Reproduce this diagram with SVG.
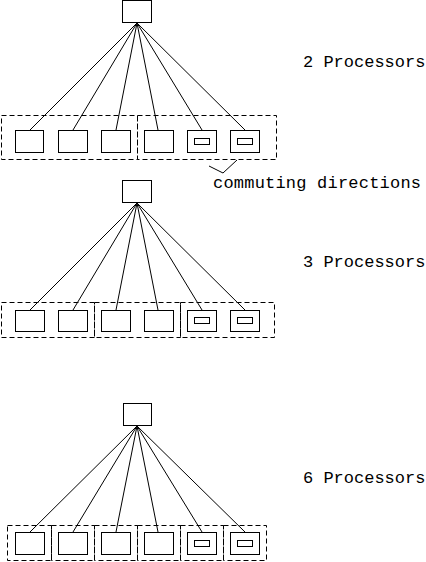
<svg xmlns="http://www.w3.org/2000/svg" width="426" height="562" viewBox="0 0 426 562">
<style>
rect{fill:none;stroke:#000;stroke-width:1}
.g{stroke-dasharray:5,3}
line,polyline{stroke:#000;stroke-width:1;fill:none}
text{font-family:"Liberation Mono","DejaVu Sans Mono",monospace;font-size:17px;fill:#000}
</style>
<rect width="426" height="562" fill="#fff" stroke="none" style="fill:#fff;stroke:none"/>
<g id="connectors">
<line x1="137" y1="23" x2="30" y2="130"/>
<line x1="137" y1="23" x2="73" y2="130"/>
<line x1="137" y1="23" x2="116" y2="130"/>
<line x1="137" y1="23" x2="158" y2="130"/>
<line x1="137" y1="23" x2="202" y2="130"/>
<line x1="137" y1="23" x2="245" y2="130"/>
<line x1="137" y1="203" x2="30" y2="310"/>
<line x1="137" y1="203" x2="73" y2="310"/>
<line x1="137" y1="203" x2="116" y2="310"/>
<line x1="137" y1="203" x2="158" y2="310"/>
<line x1="137" y1="203" x2="202" y2="310"/>
<line x1="137" y1="203" x2="245" y2="310"/>
<line x1="137" y1="426" x2="30" y2="532"/>
<line x1="137" y1="426" x2="73" y2="532"/>
<line x1="137" y1="426" x2="116" y2="532"/>
<line x1="137" y1="426" x2="158" y2="532"/>
<line x1="137" y1="426" x2="202" y2="532"/>
<line x1="137" y1="426" x2="245" y2="532"/>
<polyline points="209,166 223,173 237,160"/>
</g>
<g id="section1">
<rect id="root1" x="122.5" y="0.5" width="29" height="22"/>
<rect class="g" x="1.5" y="115.5" width="136" height="44"/>
<rect class="g" x="137.5" y="115.5" width="139" height="44"/>
<rect x="15.5" y="130.5" width="28" height="22"/>
<rect x="58.5" y="130.5" width="29" height="22"/>
<rect x="101.5" y="130.5" width="29" height="22"/>
<rect x="144.5" y="130.5" width="29" height="22"/>
<rect x="187.5" y="130.5" width="29" height="22"/>
<rect x="194.5" y="138.5" width="15" height="6"/>
<rect x="230.5" y="130.5" width="29" height="22"/>
<rect x="237.5" y="138.5" width="15" height="6"/>
<text x="303" y="67">2 Processors</text>
<text x="213" y="188" textLength="208">commuting directions</text>
</g>
<g id="section2">
<rect id="root2" x="122.5" y="180.5" width="29" height="22"/>
<rect class="g" x="1.5" y="302.5" width="93" height="35"/>
<rect class="g" x="94.5" y="302.5" width="86" height="35"/>
<rect class="g" x="180.5" y="302.5" width="94" height="35"/>
<rect x="15.5" y="310.5" width="29" height="21"/>
<rect x="58.5" y="310.5" width="29" height="21"/>
<rect x="101.5" y="310.5" width="29" height="21"/>
<rect x="144.5" y="310.5" width="29" height="21"/>
<rect x="187.5" y="310.5" width="29" height="21"/>
<rect x="194.5" y="317.5" width="15" height="6"/>
<rect x="230.5" y="310.5" width="29" height="21"/>
<rect x="237.5" y="317.5" width="15" height="6"/>
<text x="303" y="267">3 Processors</text>
</g>
<g id="section3">
<rect id="root3" x="123.5" y="403.5" width="28" height="22"/>
<rect class="g" x="7.5" y="525.5" width="44" height="35"/>
<rect class="g" x="51.5" y="525.5" width="43" height="35"/>
<rect class="g" x="94.5" y="525.5" width="43" height="35"/>
<rect class="g" x="137.5" y="525.5" width="43" height="35"/>
<rect class="g" x="180.5" y="525.5" width="43" height="35"/>
<rect class="g" x="223.5" y="525.5" width="43" height="35"/>
<rect x="15.5" y="532.5" width="29" height="22"/>
<rect x="58.5" y="532.5" width="29" height="22"/>
<rect x="101.5" y="532.5" width="29" height="22"/>
<rect x="144.5" y="532.5" width="29" height="22"/>
<rect x="187.5" y="532.5" width="29" height="22"/>
<rect x="194.5" y="540.5" width="15" height="6"/>
<rect x="230.5" y="532.5" width="29" height="22"/>
<rect x="237.5" y="540.5" width="15" height="6"/>
<text x="303" y="483">6 Processors</text>
</g>
</svg>
